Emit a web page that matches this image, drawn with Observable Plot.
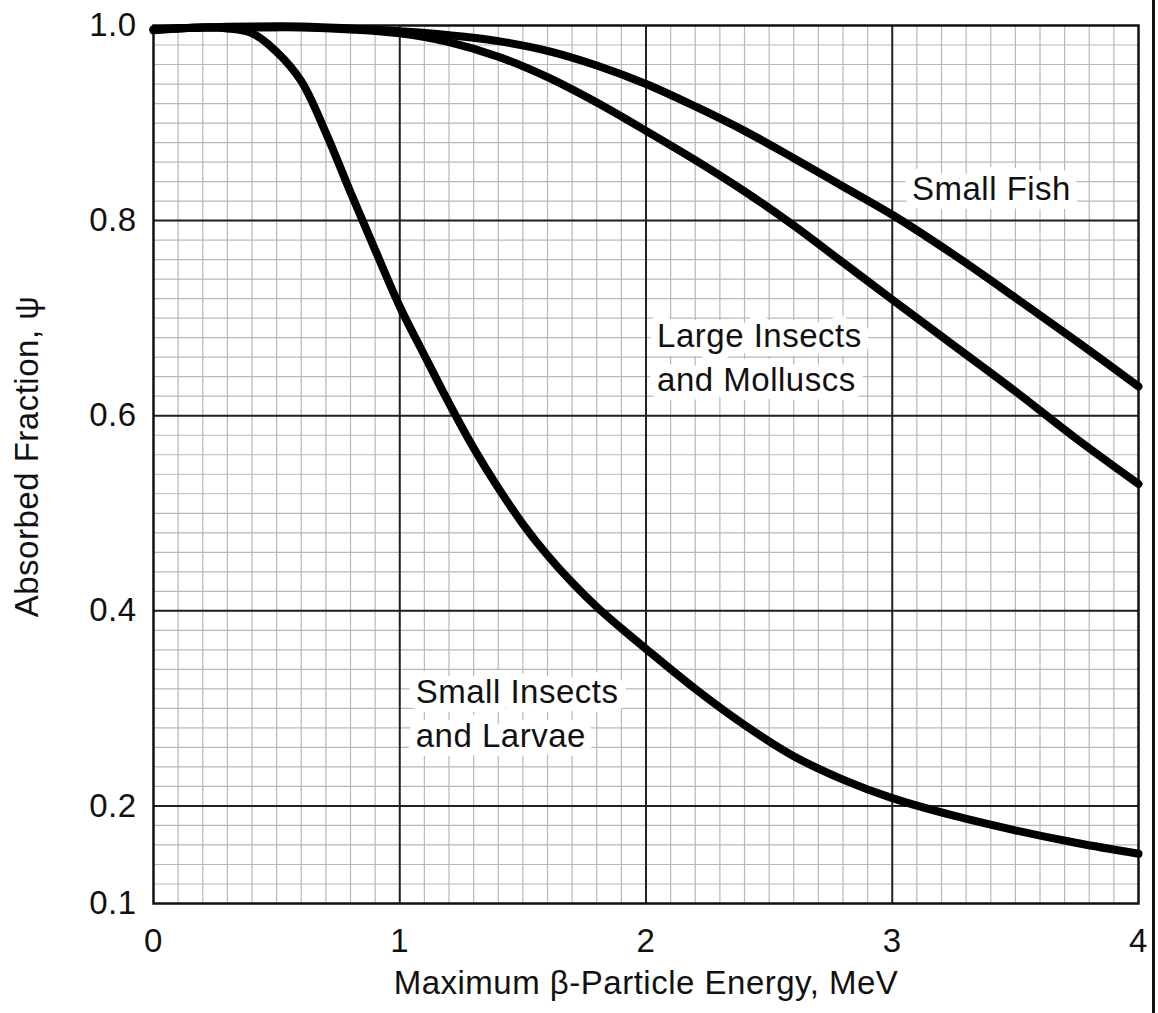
<!DOCTYPE html>
<html>
<head>
<meta charset="utf-8">
<script src="https://cdn.jsdelivr.net/npm/d3@7"></script>
<script src="https://cdn.jsdelivr.net/npm/@observablehq/plot@0.6"></script>
<style>
  html, body { margin: 0; padding: 0; background: #fff; }
  #wrap { position: relative; width: 1158px; height: 1013px; overflow: hidden; background: #fff; }
  #wrap svg { position: absolute; left: 0; top: 0; }
  #edge { position: absolute; left: 1152px; top: 0; width: 3px; height: 1013px; background: #111; z-index: 2; }
</style>
</head>
<body>
<div id="wrap"><div id="edge"></div></div>
<script>
// ---- Data ----
const seriesNames = ["Small Fish", "Large Insects and Molluscs", "Small Insects and Larvae"];

const fishEnergy = [0, 0.2, 0.4, 0.6, 0.8, 1.0, 1.2, 1.4, 1.6, 1.8, 2.0, 2.2, 2.4, 2.6, 2.8, 3.0, 3.25, 3.5, 3.75, 4.0];
const fishPsi    = [0.996, 0.998, 0.999, 0.999, 0.997, 0.994, 0.990, 0.984, 0.974, 0.959, 0.940, 0.917, 0.892, 0.864, 0.835, 0.806, 0.765, 0.721, 0.676, 0.630];

const largeEnergy = [0, 0.2, 0.4, 0.6, 0.8, 1.0, 1.2, 1.4, 1.6, 1.8, 2.0, 2.2, 2.4, 2.6, 2.8, 3.0, 3.25, 3.5, 3.75, 4.0];
const largePsi    = [0.996, 0.998, 0.998, 0.998, 0.996, 0.992, 0.983, 0.968, 0.947, 0.921, 0.892, 0.862, 0.830, 0.795, 0.757, 0.719, 0.672, 0.625, 0.576, 0.530];

const smallEnergy = [0, 0.1, 0.2, 0.3, 0.4, 0.5, 0.6, 0.7, 0.8, 0.9, 1.0, 1.1, 1.2, 1.3, 1.4, 1.5, 1.6, 1.7, 1.8, 1.9, 2.0, 2.2, 2.4, 2.6, 2.8, 3.0, 3.25, 3.5, 3.75, 4.0];
const smallPsi    = [0.995, 0.997, 0.998, 0.997, 0.992, 0.973, 0.943, 0.890, 0.829, 0.770, 0.712, 0.662, 0.613, 0.567, 0.526, 0.489, 0.457, 0.429, 0.404, 0.382, 0.361, 0.320, 0.283, 0.251, 0.227, 0.208, 0.190, 0.175, 0.162, 0.151];

// Axis ticks
const xTicks = [0, 1, 2, 3, 4];
const yTicks = [0.1, 0.2, 0.4, 0.6, 0.8, 1.0];
const yMajorGrid = [0.2, 0.4, 0.6, 0.8];
const xMinorGrid = d3.range(1, 40).map(i => i / 10);
const yMinorGrid = d3.range(6, 50).map(i => i / 50);

// Curve annotations
const labelText = ["Small Fish", "Large Insects\nand Molluscs", "Small Insects\nand Larvae"];
const labelEnergy = [3.08, 2.045, 1.065];
const labelPsi = [0.836, 0.662, 0.297];

const xTitle = "Maximum β-Particle Energy, MeV";
const yTitle = "Absorbed Fraction, ψ";

// ---- Build table ----
const rows = [];
[[fishEnergy, fishPsi], [largeEnergy, largePsi], [smallEnergy, smallPsi]].forEach(([e, p], k) => {
  e.forEach((v, i) => rows.push({series: seriesNames[k], energy: v, psi: p[i]}));
});
const labels = labelText.map((t, i) => ({t, e: labelEnergy[i], p: labelPsi[i]}));

const FS = 33;
const chart = Plot.plot({
  width: 1158,
  height: 1013,
  marginLeft: 153,
  marginRight: 20,
  marginTop: 25,
  marginBottom: 110,
  style: {fontFamily: "'Liberation Sans', Arial, Helvetica, sans-serif", fontSize: FS + "px", color: "#111", background: "#fff", letterSpacing: "0.5px"},
  x: {domain: [0, 4], label: null},
  y: {domain: [0.1, 1.0], label: null},
  marks: [
    Plot.ruleX(xMinorGrid, {stroke: "#b8b8b8", strokeWidth: 1.2}),
    Plot.ruleY(yMinorGrid, {stroke: "#b8b8b8", strokeWidth: 1.2}),
    Plot.ruleX(xTicks.slice(1, -1), {stroke: "#222", strokeWidth: 2}),
    Plot.ruleY(yMajorGrid, {stroke: "#222", strokeWidth: 2}),
    Plot.frame({stroke: "#111", strokeWidth: 2.5}),
    Plot.line(rows, {x: "energy", y: "psi", z: "series", stroke: "#000", strokeWidth: 8, curve: "catmull-rom"}),
    Plot.text(labels, {x: "e", y: "p", text: "t", textAnchor: "start", lineAnchor: "middle", lineHeight: 1.33, fontSize: FS, fill: "#111", stroke: "#fff", strokeWidth: 18}),
    Plot.axisX(xTicks, {tickSize: 0, tickPadding: 25, fontSize: FS, label: null, tickFormat: d => String(d)}),
    Plot.axisY(yTicks, {tickSize: 0, tickPadding: 17, fontSize: FS, label: null, tickFormat: d3.format(".1f")}),
    Plot.text([xTitle], {frameAnchor: "bottom", dy: 90, fontSize: FS, fill: "#111"}),
    Plot.text([yTitle], {frameAnchor: "left", textAnchor: "middle", rotate: -90, dx: -126, dy: -8, fontSize: FS, fill: "#111"})
  ]
});
document.getElementById("wrap").prepend(chart);
</script>
</body>
</html>
